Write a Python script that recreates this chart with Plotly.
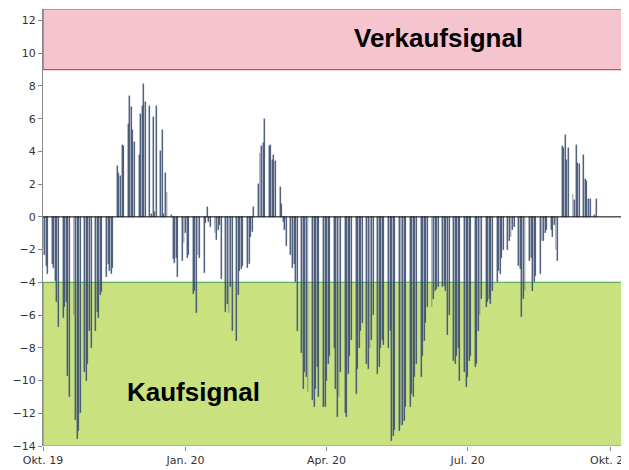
import pandas as pd
import plotly.graph_objects as go

# weekly blocks of business-day values (Mon..Fri), first block starts Tue 2019-10-01
weeks = [
    [-1.9, -2.3, -3.0, -3.5],
    [-2.9, -3.1, -3.9, -5.2, -6.7],
    [-6.2, -5.5, -5.2, -9.7, -11.0],
    [-6.0, -12.4, -13.6, -13.1, -12.0],
    [-9.5, -10.0, -9.0, -7.0, -8.0],
    [-7.0, -5.8, -6.2, -4.8, -4.6],
    [-3.7, -2.9, -3.3, -3.5, -3.1],
    [3.1, 2.7, 2.5, 4.4, 4.3],
    [5.7, 7.4, 6.7, 5.3, 4.6],
    [3.8, 6.3, 6.8, 8.1, 7.0],
    [6.8, 0.2, 6.1, 0.3, 6.8],
    [4.0, 5.3, 0.2, 2.7, 1.5],
    [0.1, -2.6, -2.8, -2.5, -3.7],
    [-2.7, -1.6, -1.0, -2.5, -2.3],
    [-4.7, -4.5, -5.9, -2.3, -2.5],
    [-3.4, -0.4, 0.6, -0.3, -0.6],
    [-1.0, -1.4, -0.8, -0.5, -3.8],
    [-5.8, -5.3, -5.9, -4.3, -7.0],
    [-7.6, -4.8, -3.3, -3.2, -3.0],
    [-3.1, -2.9, -1.2, -0.9, 0.6],
    [2.0, 3.9, 4.3, 4.5, 6.0],
    [4.3, 4.4, 3.5, 3.8, 3.4],
    [1.8, 0.8, -0.3, -0.8, -1.8],
    [-2.3, -3.1, -2.9, -4.0, -7.0],
    [-8.3, -10.5, -9.5, -9.8, -10.7],
    [-11.2, -11.6, -10.5, -9.2, -11.0],
    [-11.6, -11.6, -10.0, -9.0, -8.5],
    [-8.0, -10.5, -12.2, -11.0, -9.5],
    [-12.0, -12.2, -9.6, -8.5, -7.5],
    [-10.8, -9.3, -8.0, -7.0, -6.5],
    [-9.0, -9.3, -8.0, -7.5, -6.0],
    [-9.6, -9.2, -8.0, -7.5, -7.8],
    [-8.0, -7.0, -13.7, -13.4, -13.0],
    [-13.1, -12.8, -12.7, -12.5, -11.6],
    [-11.6, -10.8, -11.0, -9.8, -9.0],
    [-9.8, -8.5, -7.6, -6.5, -5.5],
    [-5.5, -5.0, -4.5, -4.4, -4.3],
    [-4.3, -4.2, -4.5, -7.2, -6.0],
    [-8.8, -9.0, -8.5, -8.0, -10.0],
    [-9.5, -10.4, -9.8, -8.8, -8.5],
    [-9.2, -9.0, -7.0, -6.0, -5.0],
    [-5.5, -5.2, -5.0, -5.3, -4.5],
    [-4.0, -3.3, -3.5, -2.5, -2.0],
    [-2.0, -1.5, -1.2, -0.8, -0.6],
    [-3.0, -3.2, -6.1, -5.0, -4.5],
    [-2.7, -2.5, -4.5, -4.0, -3.6],
    [-3.5, -1.5, -1.5, -1.0, -0.8],
    [-0.8, -1.2, -0.5, -2.0, -2.7],
    [4.3, 4.2, 5.0, 3.5, 4.2],
    [1.4, 1.0, 4.4, 3.3, 3.2],
    [3.8, 2.3, 2.2, 1.1, 1.1],
    [0.1, 1.1],
]
values = [v for w in weeks for v in w]
dates = pd.bdate_range("2019-10-01", periods=len(values))

tick_vals = ["2019-10-01", "2020-01-01", "2020-04-01", "2020-07-01", "2020-10-01"]
tick_text = ["Okt. 19", "Jan. 20", "Apr. 20", "Jul. 20", "Okt. 20"]
y_ticks = list(range(-14, 13, 2))

fig = go.Figure()
fig.add_trace(go.Bar(x=dates, y=values, width=0.6 * 86400000,
                     marker=dict(color="#1F3660", line=dict(width=0.4, color="#5F6E88"))))

x0, x1 = "2019-10-01", "2020-10-17"
fig.add_shape(type="rect", xref="x", yref="y", x0=x0, x1=x1, y0=9, y1=12.7,
              fillcolor="#F6C4CE", line=dict(color="#C0504D", width=1.2), layer="below")
fig.add_shape(type="rect", xref="x", yref="y", x0=x0, x1=x1, y0=-14, y1=-4,
              fillcolor="#C9E27F", line=dict(color="#5FAF5A", width=1.2), layer="below")
fig.add_shape(type="line", xref="x", yref="y", x0=x0, x1=x1, y0=0, y1=0,
              line=dict(color="black", width=1))

fig.add_annotation(x="2020-06-12", y=10.9, text="<b>Verkaufsignal</b>", showarrow=False,
                   font=dict(family="Liberation Sans, Arial", size=26, color="black"))
fig.add_annotation(x="2020-01-06", y=-10.7, text="<b>Kaufsignal</b>", showarrow=False,
                   font=dict(family="Liberation Sans, Arial", size=26, color="black"))

fig.update_layout(
    width=629, height=470, margin=dict(l=35, r=2, t=1, b=32),
    plot_bgcolor="white", paper_bgcolor="white", showlegend=False, bargap=0,
    font=dict(family="DejaVu Sans", size=11, color="#333333"),
)
fig.update_xaxes(range=[x0, x1], tickvals=tick_vals, ticktext=tick_text, ticks="outside",
                 ticklen=4, tickcolor="#888888", showgrid=False, showline=False, zeroline=False,
                 automargin=False)
fig.update_yaxes(range=[-14, 12.7], tickvals=y_ticks, ticks="outside", ticklen=4,
                 tickcolor="#888888", showgrid=False, showline=True, linecolor="#888888",
                 zeroline=False, automargin=False)
fig.write_html("out.html")
